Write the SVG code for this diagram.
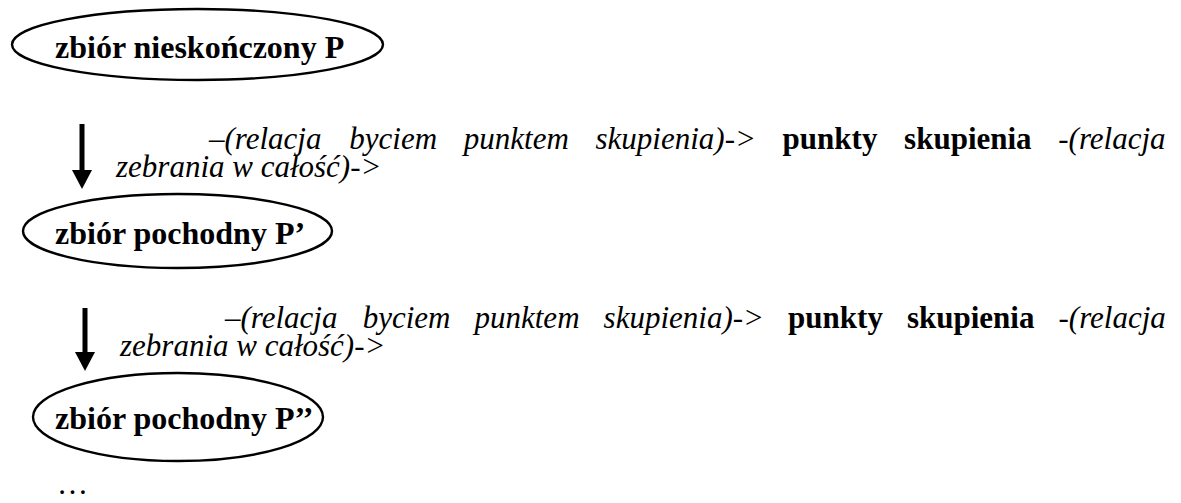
<svg xmlns="http://www.w3.org/2000/svg" width="1181" height="503" viewBox="0 0 1181 503">
<style>
.node ellipse{fill:none;stroke:#000;stroke-width:2.4}
.lbl{font-family:"Liberation Serif","Times New Roman",serif;font-weight:bold;font-size:32px;fill:#000}
.it{font-family:"Liberation Serif","Times New Roman",serif;font-style:italic;font-size:31px;fill:#000}
.b{font-style:normal;font-weight:bold}
.shaft{stroke:#000;stroke-width:5}
.head{fill:#000}
</style>
<rect width="1181" height="503" fill="#fff"/>
<g id="n1" class="node">
<ellipse cx="197.5" cy="44.5" rx="185.5" ry="35.5"/>
<text class="lbl" x="55" y="58">zbiór nieskończony P</text>
</g>
<g id="n2" class="node">
<ellipse cx="177.5" cy="231" rx="154.5" ry="37"/>
<text class="lbl" x="55" y="244">zbiór pochodny P’</text>
</g>
<g id="n3" class="node">
<ellipse cx="178" cy="417" rx="145" ry="44"/>
<text class="lbl" x="55" y="429">zbiór pochodny P’’</text>
</g>
<g id="connectors">
<line class="shaft" x1="82" y1="124" x2="82" y2="172"/>
<polygon class="head" points="72,170 92,170 82,189"/>
<line class="shaft" x1="85" y1="308" x2="85" y2="354"/>
<polygon class="head" points="75,352 95,352 85,371"/>
</g>
<g id="labels">
<text class="it" y="149"><tspan x="209">–(relacja</tspan><tspan x="349.3">byciem</tspan><tspan x="463.8">punktem</tspan><tspan x="595.5">skupienia)-&gt;</tspan><tspan class="b" x="782.6">punkty</tspan><tspan class="b" x="904.1">skupienia</tspan><tspan x="1058.3">-(relacja</tspan></text>
<text class="it" x="116" y="177">zebrania w całość)-&gt;</text>
<text class="it" y="328"><tspan x="225">–(relacja</tspan><tspan x="362.7">byciem</tspan><tspan x="474.5">punktem</tspan><tspan x="603.6">skupienia)-&gt;</tspan><tspan class="b" x="788.1">punkty</tspan><tspan class="b" x="906.9">skupienia</tspan><tspan x="1058.5">-(relacja</tspan></text>
<text class="it" x="120" y="356">zebrania w całość)-&gt;</text>
<text class="it" style="font-style:normal" x="57" y="494">…</text>
</g>
</svg>
